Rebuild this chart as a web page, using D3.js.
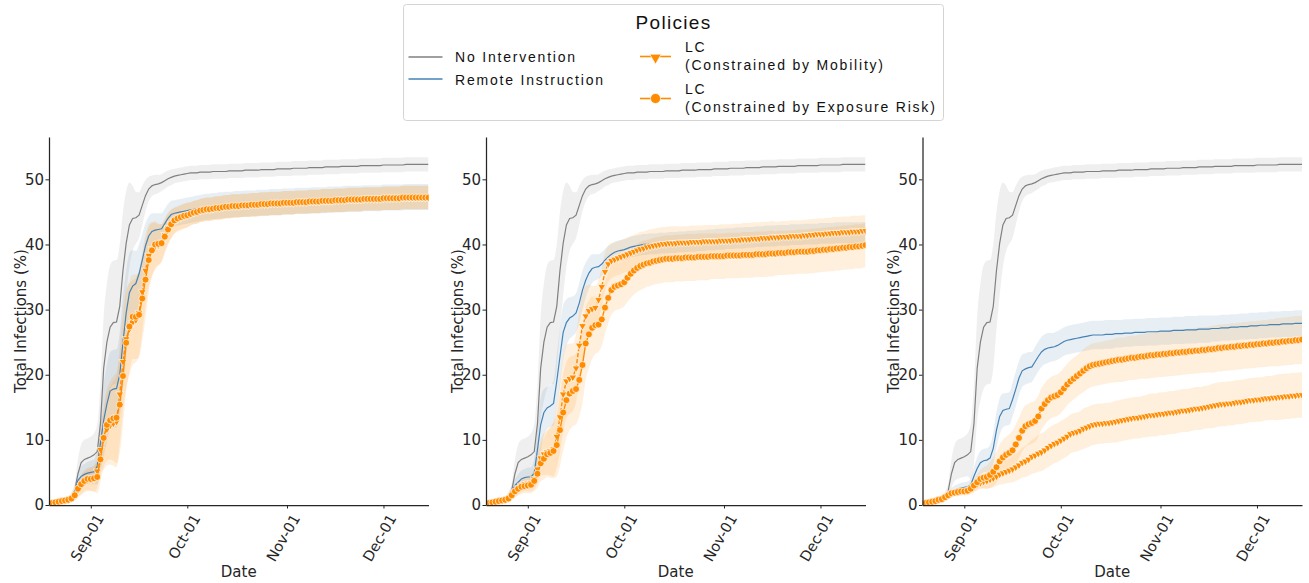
<!DOCTYPE html>
<html>
<head>
<meta charset="utf-8">
<script src="https://cdn.jsdelivr.net/npm/d3@7"></script>
<style>
  body { margin: 0; background: #fff; }
  svg { display: block; }
</style>
</head>
<body>
<svg id="chart" width="1309" height="583"></svg>
<script>
// ---- Data: daily cumulative infections (%) from Aug 19 to Dec 15 ----
const startDate = new Date(2020, 7, 19);
const dayCount = 119;
const xTickDates = [new Date(2020, 8, 1), new Date(2020, 9, 1), new Date(2020, 10, 1), new Date(2020, 11, 1)];
const yTickValues = [0, 10, 20, 30, 40, 50];

const policyNames = ["No Intervention", "Remote Instruction", "LC|(Constrained by Mobility)", "LC|(Constrained by Exposure Risk)"];

// No Intervention (same in every panel)
const noIntervention = [
  0.1,0.2,0.3,0.4,0.5,0.7,0.9,1.3,
  2.2,4.8,6.5,7.0,7.2,7.4,7.7,8.2,
  12.5,21.0,25.0,27.3,28.0,28.1,30.5,36.0,
  40.2,43.0,44.0,44.1,44.5,46.0,47.5,48.5,
  49.0,49.2,49.3,49.5,49.8,50.1,50.3,50.5,
  50.6,50.7,50.8,50.9,51.0,51.0,51.0,51.1,
  51.1,51.1,51.1,51.2,51.2,51.2,51.2,51.2,
  51.3,51.3,51.3,51.3,51.3,51.4,51.4,51.4,
  51.4,51.4,51.5,51.5,51.5,51.5,51.5,51.6,
  51.6,51.6,51.6,51.6,51.7,51.7,51.7,51.7,
  51.7,51.8,51.8,51.8,51.8,51.8,51.9,51.9,
  51.9,51.9,51.9,52.0,52.0,52.0,52.0,52.0,
  52.0,52.1,52.1,52.1,52.1,52.1,52.1,52.1,
  52.2,52.2,52.2,52.2,52.2,52.2,52.2,52.3,
  52.3,52.3,52.3,52.3,52.3,52.3,52.3
];
const spreadNone = [
  0.1,0.1,0.2,0.2,0.3,0.4,0.5,0.7,
  1.2,2.2,2.8,3.0,3.0,3.1,3.3,4.2,
  6.0,8.0,9.0,9.5,9.5,9.5,9.5,9.0,
  8.0,6.5,5.0,4.0,3.5,3.0,2.4,1.9,
  1.6,1.5,1.4,1.3,1.3,1.2,1.2,1.1,
  1.1,1.1,1.1,1.1,1.1,1.1,1.1,1.1,1.1,1.1,
  1.1,1.1,1.1,1.1,1.1,1.1,1.1,1.1,1.1,1.1,
  1.1,1.1,1.1,1.1,1.1,1.1,1.1,1.1,1.1,1.1,
  1.1,1.1,1.1,1.1,1.1,1.1,1.1,1.1,1.1,1.1,
  1.1,1.1,1.1,1.1,1.1,1.1,1.1,1.1,1.1,1.1,
  1.1,1.1,1.1,1.1,1.1,1.1,1.1,1.1,1.1,1.1,
  1.1,1.1,1.1,1.1,1.1,1.1,1.1,1.1,1.1,1.1,
  1.1,1.1,1.1,1.1,1.1,1.1,1.1,1.1,1.1
];

// Panel 1
const remote1 = [
  0.1,0.2,0.3,0.4,0.5,0.7,0.9,1.2,
  2.0,3.8,4.4,4.7,4.9,5.0,5.1,6.0,
  9.5,13.0,15.5,17.5,17.8,17.9,20.0,25.0,
  29.5,32.6,33.6,34.0,35.5,37.6,39.8,41.3,
  42.0,42.2,42.3,42.4,43.2,44.0,44.6,44.8,
  44.9,45.0,45.1,45.2,45.3,45.4,45.5,45.6,
  45.7,45.8,45.8,45.9,45.9,46.0,46.0,46.1,
  46.1,46.1,46.2,46.2,46.2,46.3,46.3,46.3,
  46.3,46.4,46.4,46.4,46.4,46.5,46.5,46.5,
  46.5,46.6,46.6,46.6,46.6,46.7,46.7,46.7,
  46.7,46.7,46.8,46.8,46.8,46.8,46.8,46.9,
  46.9,46.9,46.9,46.9,47.0,47.0,47.0,47.0,
  47.0,47.0,47.1,47.1,47.1,47.1,47.1,47.1,
  47.2,47.2,47.2,47.2,47.2,47.2,47.2,47.3,
  47.3,47.3,47.3,47.3,47.3,47.3,47.3
];
const spreadRemote1 = [
  0.1,0.1,0.2,0.2,0.3,0.3,0.4,0.5,
  0.8,1.2,1.5,1.6,1.7,1.8,1.9,2.8,
  4.5,5.5,6.0,6.0,6.0,6.0,6.5,7.0,
  6.5,6.0,5.5,5.0,4.5,4.0,3.5,3.0,
  2.8,2.6,2.5,2.4,2.3,2.2,2.1,2.0,
  2.0,2.0,2.0,2.0,2.0,2.0,2.0,2.0,2.0,2.0,
  2.0,2.0,2.0,2.0,2.0,2.0,2.0,2.0,2.0,2.0,
  2.0,2.0,2.0,2.0,2.0,2.0,2.0,2.0,2.0,2.0,
  2.0,2.0,2.0,2.0,2.0,2.0,2.0,2.0,2.0,2.0,
  2.0,2.0,2.0,2.0,2.0,2.0,2.0,2.0,2.0,2.0,
  2.0,2.0,2.0,2.0,2.0,2.0,2.0,2.0,2.0,2.0,
  2.0,2.0,2.0,2.0,2.0,2.0,2.0,2.0,2.0,2.0,
  2.0,2.0,2.0,2.0,2.0,2.0,2.0,2.0,2.0
];
const mobility1 = [
  0.2,0.3,0.4,0.5,0.6,0.7,0.8,1.0,
  1.4,2.3,3.0,3.5,3.8,3.9,4.0,5.2,
  8.5,10.0,11.6,12.2,12.5,12.8,17.0,22.0,
  25.5,27.0,28.0,28.4,29.5,32.7,36.0,38.3,
  39.3,39.7,39.9,40.3,41.5,42.5,43.2,43.6,
  43.9,44.1,44.3,44.5,44.7,44.9,45.0,45.2,
  45.3,45.4,45.4,45.5,45.6,45.6,45.7,45.8,
  45.8,45.9,45.9,45.9,46.0,46.0,46.0,46.1,
  46.1,46.1,46.2,46.2,46.2,46.3,46.3,46.3,
  46.3,46.4,46.4,46.4,46.4,46.5,46.5,46.5,
  46.5,46.6,46.6,46.6,46.6,46.7,46.7,46.7,
  46.7,46.8,46.8,46.8,46.8,46.9,46.9,46.9,
  46.9,46.9,47.0,47.0,47.0,47.0,47.0,47.0,
  47.1,47.1,47.1,47.1,47.1,47.1,47.2,47.2,
  47.2,47.2,47.2,47.2,47.2,47.2,47.2
];
const spreadMobility1 = [
  0.1,0.1,0.2,0.2,0.2,0.3,0.3,0.4,
  0.8,1.2,1.5,1.6,1.7,1.8,2.0,2.6,
  3.6,4.6,5.5,6.0,6.5,7.0,7.5,7.5,
  7.5,7.0,6.5,6.5,6.5,6.2,5.6,4.8,
  4.1,3.6,3.2,2.9,2.6,2.4,2.2,2.0,
  1.9,1.9,1.9,1.9,1.8,1.8,1.8,1.8,1.8,1.8,
  1.8,1.8,1.8,1.8,1.8,1.8,1.8,1.8,1.8,1.8,
  1.8,1.8,1.8,1.8,1.8,1.8,1.8,1.8,1.8,1.8,
  1.8,1.8,1.8,1.8,1.8,1.8,1.8,1.8,1.8,1.8,
  1.8,1.8,1.8,1.8,1.8,1.8,1.8,1.8,1.8,1.8,
  1.8,1.8,1.8,1.8,1.8,1.8,1.8,1.8,1.8,1.8,
  1.8,1.8,1.8,1.8,1.8,1.8,1.8,1.8,1.8,1.8,
  1.8,1.8,1.8,1.8,1.8,1.8,1.8,1.8,1.8
];
const exposure1 = [
  0.2,0.3,0.4,0.5,0.6,0.7,0.8,1.0,
  1.5,2.5,3.2,3.7,4.0,4.0,4.1,4.3,
  7.0,10.3,12.3,13.0,13.3,13.4,15.4,19.8,
  24.9,27.4,28.9,28.9,29.2,31.7,34.6,37.6,
  39.1,40.0,40.1,40.2,41.2,42.3,43.1,43.7,
  44.0,44.2,44.4,44.5,44.7,44.9,45.0,45.2,
  45.3,45.4,45.4,45.5,45.6,45.6,45.7,45.8,
  45.8,45.9,45.9,45.9,46.0,46.0,46.0,46.1,
  46.1,46.1,46.2,46.2,46.2,46.3,46.3,46.3,
  46.3,46.4,46.4,46.4,46.4,46.5,46.5,46.5,
  46.5,46.6,46.6,46.6,46.6,46.7,46.7,46.7,
  46.7,46.8,46.8,46.8,46.8,46.9,46.9,46.9,
  46.9,46.9,47.0,47.0,47.0,47.0,47.0,47.0,
  47.1,47.1,47.1,47.1,47.1,47.1,47.2,47.2,
  47.2,47.2,47.2,47.2,47.2,47.2,47.2
];
const spreadExposure1 = [
  0.1,0.1,0.2,0.2,0.2,0.3,0.3,0.4,
  0.8,1.2,1.5,1.6,1.7,1.8,2.0,2.5,
  3.5,4.5,5.5,6.0,6.5,7.0,7.5,7.5,
  7.5,7.0,6.5,6.5,6.5,6.5,6.0,5.0,
  4.2,3.6,3.2,2.9,2.6,2.4,2.2,2.0,
  1.9,1.9,1.9,1.9,1.8,1.8,1.8,1.8,1.8,1.8,
  1.8,1.8,1.8,1.8,1.8,1.8,1.8,1.8,1.8,1.8,
  1.8,1.8,1.8,1.8,1.8,1.8,1.8,1.8,1.8,1.8,
  1.8,1.8,1.8,1.8,1.8,1.8,1.8,1.8,1.8,1.8,
  1.8,1.8,1.8,1.8,1.8,1.8,1.8,1.8,1.8,1.8,
  1.8,1.8,1.8,1.8,1.8,1.8,1.8,1.8,1.8,1.8,
  1.8,1.8,1.8,1.8,1.8,1.8,1.8,1.8,1.8,1.8,
  1.8,1.8,1.8,1.8,1.8,1.8,1.8,1.8,1.8
];

// Panel 2
const remote2 = [
  0.1,0.2,0.3,0.4,0.5,0.7,0.9,1.2,
  2.0,3.0,3.5,4.0,4.2,4.3,4.3,4.9,
  8.5,12.3,14.2,14.9,15.2,15.6,19.0,22.8,
  26.5,28.0,28.7,29.0,29.5,31.0,33.0,34.5,
  35.6,36.3,36.5,36.6,37.0,37.6,38.1,38.5,
  38.8,39.0,39.1,39.2,39.4,39.6,39.7,39.8,
  39.9,40.0,40.0,40.1,
  40.1,40.1,40.2,40.2,40.2,40.3,40.3,40.3,
  40.4,40.4,40.4,40.5,40.5,40.5,40.6,40.6,
  40.6,40.7,40.7,40.7,40.8,40.8,40.8,40.9,
  40.9,40.9,41.0,41.0,41.0,41.1,41.1,41.1,
  41.2,41.2,41.2,41.3,41.3,41.3,41.3,41.4,
  41.4,41.4,41.4,41.5,41.5,41.5,41.5,41.6,
  41.6,41.6,41.6,41.6,41.7,41.7,41.7,41.7,
  41.7,41.8,41.8,41.8,41.8,41.8,41.8,41.8,
  41.8,41.8,41.8
];
const spreadRemote2 = [
  0.1,0.1,0.2,0.2,0.3,0.3,0.4,0.5,
  0.8,1.0,1.2,1.3,1.3,1.4,1.5,2.2,
  3.5,4.0,3.6,3.2,3.2,3.4,4.0,4.4,
  4.2,3.6,3.2,3.0,3.0,3.1,3.0,2.7,
  2.4,2.2,2.0,1.9,1.8,1.7,1.7,1.6,
  1.6,1.6,1.6,1.6,1.6,1.6,1.6,1.6,1.6,1.6,
  1.6,1.6,1.6,1.6,1.6,1.6,1.6,1.6,1.6,1.6,
  1.6,1.6,1.6,1.6,1.6,1.6,1.6,1.6,1.6,1.6,
  1.6,1.6,1.6,1.6,1.6,1.6,1.6,1.6,1.6,1.6,
  1.6,1.6,1.6,1.6,1.6,1.6,1.6,1.6,1.6,1.6,
  1.6,1.6,1.6,1.6,1.6,1.6,1.6,1.6,1.6,1.6,
  1.6,1.6,1.6,1.6,1.6,1.6,1.6,1.6,1.6,1.6,
  1.6,1.6,1.6,1.6,1.6,1.6,1.6,1.6,1.6
];
const mobility2 = [
  0.2,0.3,0.4,0.5,0.6,0.7,0.8,1.0,
  1.5,2.0,2.6,3.0,3.2,3.3,3.4,4.0,
  5.5,7.2,7.8,8.1,8.3,8.6,10.5,13.5,
  17.0,19.0,19.4,19.6,21.0,24.5,27.5,29.0,
  29.8,30.1,30.3,31.5,33.5,35.8,37.0,37.5,
  37.7,37.9,38.1,38.3,38.5,38.7,38.9,39.1,
  39.3,39.4,39.6,39.7,39.8,39.9,40.0,40.1,
  40.1,40.2,40.2,40.2,40.3,40.3,40.3,40.3,
  40.4,40.4,40.4,40.4,40.5,40.5,40.5,40.5,
  40.5,40.6,40.6,40.6,40.6,40.7,40.7,40.7,
  40.8,40.8,40.8,40.9,40.9,40.9,41.0,41.0,
  41.0,41.1,41.1,41.1,41.2,41.2,41.2,41.3,
  41.3,41.3,41.3,41.4,41.4,41.5,41.5,41.6,
  41.6,41.6,41.7,41.7,41.8,41.8,41.8,41.9,
  41.9,41.9,42.0,42.0,42.0,42.1,42.1
];
const spreadMobility2 = [
  0.1,0.1,0.2,0.2,0.2,0.3,0.3,0.4,
  0.7,0.9,1.0,1.1,1.1,1.2,1.3,1.6,
  2.2,2.8,3.2,3.5,3.8,4.2,4.8,5.5,
  5.8,5.6,5.4,5.2,5.2,5.4,5.2,4.6,
  4.0,3.6,3.3,3.1,3.0,2.9,2.8,2.7,
  2.6,2.6,2.6,2.6,2.6,2.6,2.6,2.6,2.6,2.6,
  2.6,2.6,2.6,2.6,2.6,2.6,2.6,2.6,2.6,2.6,
  2.5,2.5,2.5,2.5,2.5,2.5,2.5,2.5,2.5,2.5,
  2.5,2.5,2.5,2.5,2.5,2.5,2.5,2.5,2.5,2.5,
  2.5,2.5,2.5,2.5,2.5,2.5,2.5,2.5,2.5,2.5,
  2.4,2.4,2.4,2.4,2.4,2.4,2.4,2.4,2.4,2.4,
  2.4,2.4,2.4,2.4,2.4,2.4,2.4,2.4,2.4,2.4,
  2.4,2.4,2.4,2.4,2.4,2.4,2.4,2.4,2.4
];
const exposure2 = [
  0.2,0.3,0.4,0.5,0.6,0.7,0.8,1.0,
  1.5,2.1,2.5,2.8,2.9,3.0,3.1,3.7,
  4.8,6.4,7.1,7.8,8.0,8.3,9.2,11.5,
  14.2,16.1,17.1,17.5,17.8,19.2,21.5,24.8,
  26.2,27.2,27.6,27.7,28.5,30.3,31.8,33.0,
  33.5,33.7,33.9,34.2,34.9,35.5,36.0,36.4,
  36.7,36.9,37.1,37.2,37.4,37.5,37.6,37.7,
  37.8,37.8,37.8,37.9,37.9,37.9,38.0,38.0,
  38.0,38.0,38.1,38.1,38.1,38.1,38.2,38.2,
  38.2,38.2,38.2,38.3,38.3,38.3,38.3,38.3,
  38.4,38.4,38.4,38.4,38.5,38.5,38.5,38.5,
  38.6,38.6,38.6,38.7,38.7,38.7,38.8,38.8,
  38.8,38.9,38.9,38.9,38.9,39.0,39.0,39.1,
  39.1,39.2,39.2,39.3,39.3,39.4,39.4,39.5,
  39.5,39.6,39.6,39.7,39.7,39.8,39.9
];
const spreadExposure2 = [
  0.1,0.1,0.2,0.2,0.2,0.3,0.3,0.4,
  0.7,0.9,1.0,1.1,1.1,1.2,1.3,1.6,
  2.2,2.8,3.2,3.5,3.8,4.2,4.8,5.5,
  5.8,5.8,5.6,5.4,5.4,5.6,5.8,5.6,
  5.2,4.8,4.4,4.2,4.1,4.0,3.9,3.8,
  3.7,3.7,3.7,3.7,3.7,3.7,3.7,3.7,3.7,3.7,
  3.6,3.6,3.6,3.6,3.6,3.6,3.6,3.6,3.6,3.6,
  3.6,3.6,3.6,3.6,3.6,3.6,3.6,3.6,3.6,3.6,
  3.5,3.5,3.5,3.5,3.5,3.5,3.5,3.5,3.5,3.5,
  3.5,3.5,3.5,3.5,3.5,3.5,3.5,3.5,3.5,3.5,
  3.4,3.4,3.4,3.4,3.4,3.4,3.4,3.4,3.4,3.4,
  3.4,3.4,3.4,3.4,3.4,3.4,3.4,3.4,3.4,3.4,
  3.4,3.4,3.4,3.4,3.4,3.4,3.4,3.4,3.4
];

// Panel 3
const remote3 = [
  0.1,0.2,0.3,0.4,0.5,0.7,0.9,1.2,
  1.6,2.0,2.3,2.5,2.6,2.7,2.8,3.1,
  4.4,5.6,6.5,6.8,6.9,7.2,8.7,11.5,
  13.6,14.5,14.7,14.8,16.2,17.8,19.5,20.6,
  20.9,21.1,21.2,22.0,22.8,23.5,23.9,24.1,
  24.2,24.3,24.5,24.8,25.1,25.3,25.4,25.5,
  25.6,25.7,25.8,25.9,26.0,26.1,26.1,26.1,
  26.1,26.2,26.2,26.2,26.3,26.3,26.3,26.4,
  26.4,26.4,26.5,26.5,26.5,26.5,26.6,26.6,
  26.6,26.6,26.7,26.7,26.7,26.7,26.8,26.8,
  26.8,26.8,26.9,26.9,26.9,26.9,27.0,27.0,
  27.0,27.0,27.1,27.1,27.1,27.2,27.2,27.2,
  27.3,27.3,27.3,27.4,27.4,27.4,27.5,27.5,
  27.5,27.6,27.6,27.6,27.7,27.7,27.7,27.7,
  27.8,27.8,27.8,27.8,27.9,27.9,27.9
];
const spreadRemote3 = [
  0.1,0.1,0.1,0.2,0.2,0.3,0.3,0.4,
  0.5,0.6,0.7,0.7,0.8,0.8,0.8,1.0,
  1.4,1.7,1.8,1.8,1.8,2.0,2.4,2.8,
  2.8,2.6,2.5,2.5,2.6,2.7,2.6,2.5,
  2.4,2.4,2.3,2.3,2.3,2.3,2.3,2.3,
  2.2,2.2,2.2,2.2,2.2,2.2,2.2,2.2,2.2,2.2,
  2.2,2.2,2.2,2.2,2.2,2.2,2.2,2.2,2.2,2.2,
  2.1,2.1,2.1,2.1,2.1,2.1,2.1,2.1,2.1,2.1,
  2.1,2.1,2.1,2.1,2.1,2.1,2.1,2.1,2.1,2.1,
  2.1,2.1,2.1,2.1,2.1,2.1,2.1,2.1,2.1,2.1,
  2.0,2.0,2.0,2.0,2.0,2.0,2.0,2.0,2.0,2.0,
  2.0,2.0,2.0,2.0,2.0,2.0,2.0,2.0,2.0,2.0,
  2.0,2.0,2.0,2.0,2.0,2.0,2.0,2.0,2.0
];
const mobility3 = [
  0.2,0.3,0.4,0.5,0.6,0.8,0.9,1.2,
  1.5,1.8,1.9,2.0,2.1,2.1,2.2,2.4,
  2.8,3.2,3.4,3.6,3.7,3.9,4.1,4.4,
  4.7,4.9,5.1,5.3,5.5,5.8,6.1,6.5,
  6.7,7.0,7.4,7.6,7.9,8.1,8.4,8.8,
  9.1,9.4,9.6,9.9,10.2,10.5,10.9,11.1,
  11.2,11.4,11.7,11.9,12.1,12.3,12.4,12.5,
  12.5,12.6,12.6,12.7,12.8,12.9,13.0,13.1,
  13.2,13.3,13.4,13.4,13.5,13.6,13.7,13.8,
  13.8,13.9,14.0,14.0,14.1,14.2,14.2,14.3,
  14.4,14.5,14.5,14.6,14.7,14.8,14.8,14.9,
  15.0,15.1,15.2,15.3,15.4,15.5,15.5,15.6,
  15.6,15.7,15.8,15.8,15.9,16.0,16.1,16.1,
  16.2,16.2,16.3,16.4,16.4,16.5,16.5,16.6,
  16.6,16.7,16.7,16.8,16.8,16.9,16.9
];
const spreadMobility3 = [
  0.1,0.1,0.1,0.2,0.2,0.2,0.3,0.3,
  0.4,0.5,0.5,0.5,0.6,0.6,0.6,0.7,
  0.8,0.9,1.0,1.1,1.2,1.3,1.4,1.5,
  1.6,1.7,1.8,1.9,2.0,2.1,2.2,2.3,
  2.4,2.5,2.6,2.7,2.8,2.9,2.9,3.0,
  3.0,3.0,3.0,3.0,3.0,3.0,3.0,3.0,3.0,3.0,
  3.1,3.1,3.1,3.1,3.1,3.1,3.1,3.1,3.1,3.1,
  3.2,3.2,3.2,3.2,3.2,3.2,3.2,3.2,3.2,3.2,
  3.3,3.3,3.3,3.3,3.3,3.3,3.3,3.3,3.3,3.3,
  3.3,3.3,3.3,3.3,3.3,3.3,3.3,3.3,3.3,3.3,
  3.4,3.4,3.4,3.4,3.4,3.4,3.4,3.4,3.4,3.4,
  3.4,3.4,3.4,3.4,3.4,3.4,3.4,3.4,3.4,3.4,
  3.5,3.5,3.5,3.5,3.5,3.5,3.5,3.5,3.5
];
const exposure3 = [
  0.2,0.3,0.4,0.5,0.6,0.8,0.9,1.2,
  1.5,1.8,1.9,2.0,2.1,2.1,2.2,2.5,
  3.0,3.5,4.0,4.2,4.3,4.6,5.1,5.8,
  6.7,7.3,7.7,8.0,8.4,9.3,10.3,11.4,
  12.1,12.4,12.6,12.9,13.6,14.8,15.5,16.1,
  16.5,16.7,16.9,17.3,17.9,18.5,19.0,19.4,
  19.8,20.2,20.6,21.0,21.3,21.5,21.6,21.7,
  21.8,21.9,22.0,22.1,22.2,22.3,22.3,22.4,
  22.5,22.6,22.6,22.7,22.8,22.8,22.9,23.0,
  23.0,23.1,23.1,23.2,23.2,23.3,23.3,23.4,
  23.4,23.5,23.5,23.6,23.6,23.7,23.7,23.8,
  23.8,23.9,23.9,24.0,24.1,24.1,24.2,24.2,
  24.3,24.3,24.4,24.4,24.5,24.5,24.6,24.6,
  24.7,24.7,24.8,24.8,24.9,24.9,25.0,25.0,
  25.1,25.1,25.2,25.2,25.3,25.3,25.4
];
const spreadExposure3 = [
  0.1,0.1,0.1,0.2,0.2,0.2,0.3,0.3,
  0.4,0.5,0.5,0.6,0.6,0.6,0.7,0.8,
  1.0,1.2,1.4,1.6,1.8,2.0,2.2,2.4,
  2.6,2.7,2.8,2.9,3.0,3.1,3.1,3.2,
  3.2,3.2,3.2,3.2,3.2,3.2,3.2,3.2,
  3.2,3.2,3.2,3.2,3.2,3.2,3.2,3.2,3.2,3.2,
  3.3,3.3,3.3,3.3,3.3,3.3,3.3,3.3,3.3,3.3,
  3.4,3.4,3.4,3.4,3.4,3.4,3.4,3.4,3.4,3.4,
  3.5,3.5,3.5,3.5,3.5,3.5,3.5,3.5,3.5,3.5,
  3.5,3.5,3.5,3.5,3.5,3.5,3.5,3.5,3.5,3.5,
  3.6,3.6,3.6,3.6,3.6,3.6,3.6,3.6,3.6,3.6,
  3.6,3.6,3.6,3.6,3.6,3.6,3.6,3.6,3.6,3.6,
  3.7,3.7,3.7,3.7,3.7,3.7,3.7,3.7,3.7
];

// ---- Styling ----
const policyColors = ["#808080", "#4682b4", "#ff8c00", "#ff8c00"];
const policyMarkers = [null, null, "triangle", "circle"];

const panels = [
  { series: [noIntervention, remote1, mobility1, exposure1], spreads: [spreadNone, spreadRemote1, spreadMobility1, spreadExposure1] },
  { series: [noIntervention, remote2, mobility2, exposure2], spreads: [spreadNone, spreadRemote2, spreadMobility2, spreadExposure2] },
  { series: [noIntervention, remote3, mobility3, exposure3], spreads: [spreadNone, spreadRemote3, spreadMobility3, spreadExposure3] }
];

panels.forEach((p, i) => {
  p.series.concat(p.spreads).forEach((arr, k) => {
    if (arr.length !== dayCount) throw new Error("panel " + i + " array " + k + " has " + arr.length + " values");
  });
});

const dates = d3.range(dayCount).map(i => d3.timeDay.offset(startDate, i));

const svg = d3.select("#chart");
const panelLefts = [49, 486, 922.5];
const plotWidth = 379.5;
const plotTop = 137, plotBottom = 505;
const axisColor = "#262626";
const tickFont = "DejaVu Sans, Verdana, sans-serif";

const y = d3.scaleLinear().domain([0, 56.5]).range([plotBottom, plotTop]);

const triangleDown = d3.symbol().type(d3.symbolTriangle).size(26)();
const circleSym = d3.symbol().type(d3.symbolCircle).size(38)();

panels.forEach((panel, pi) => {
  const left = panelLefts[pi];
  const x = d3.scaleTime().domain([dates[0], dates[dayCount - 1]]).range([left, left + plotWidth]);
  const g = svg.append("g").attr("class", "panel");

  const clipId = "clip" + pi;
  svg.append("clipPath").attr("id", clipId)
    .append("rect").attr("x", left).attr("y", plotTop)
    .attr("width", plotWidth).attr("height", plotBottom - plotTop);

  const plot = g.append("g").attr("clip-path", `url(#${clipId})`);

  // confidence bands
  panel.series.forEach((vals, si) => {
    const sp = panel.spreads[si];
    const area = d3.area()
      .x((d, k) => x(dates[k]))
      .y0((d, k) => y(Math.max(0, d - sp[k])))
      .y1((d, k) => y(d + sp[k]))
      .curve(d3.curveMonotoneX);
    plot.append("path").datum(vals)
      .attr("d", area)
      .attr("fill", policyColors[si])
      .attr("fill-opacity", 0.13)
      .attr("stroke", "none");
  });

  // lines and markers, drawn in policy order
  panel.series.forEach((vals, si) => {
    const line = d3.line().x((d, k) => x(dates[k])).y(d => y(d));
    plot.append("path").datum(vals)
      .attr("d", line)
      .attr("fill", "none")
      .attr("stroke", policyColors[si])
      .attr("stroke-width", si >= 2 ? 1.4 : 1.2)
      .attr("stroke-dasharray", si === 2 ? "4,2" : null);

    if (policyMarkers[si]) {
      const sym = policyMarkers[si] === "triangle" ? triangleDown : circleSym;
      const rot = policyMarkers[si] === "triangle" ? " rotate(180)" : "";
      plot.append("g").selectAll("path").data(vals).join("path")
        .attr("d", sym)
        .attr("transform", (d, k) => `translate(${x(dates[k])},${y(d)})${rot}`)
        .attr("fill", policyColors[si])
        .attr("stroke", "#fff")
        .attr("stroke-width", 0.7);
    }
  });

  // y axis
  const yAxis = g.append("g").attr("transform", `translate(${left},0)`)
    .call(d3.axisLeft(y).tickValues(yTickValues).tickSize(3.5).tickSizeOuter(0).tickPadding(1.5));
  yAxis.select(".domain").attr("stroke", axisColor).attr("stroke-width", 1.25);
  yAxis.selectAll(".tick line").attr("stroke", axisColor).attr("stroke-width", 1);
  yAxis.selectAll(".tick text").attr("font-family", tickFont).attr("font-size", 15).attr("fill", axisColor);
  yAxis.attr("font-family", null).attr("font-size", null);

  // x axis
  const xAxis = g.append("g").attr("transform", `translate(0,${plotBottom})`)
    .call(d3.axisBottom(x).tickValues(xTickDates).tickFormat(d3.timeFormat("%b-%d")).tickSize(3.5).tickSizeOuter(0));
  xAxis.select(".domain").attr("stroke", axisColor).attr("stroke-width", 1.25);
  xAxis.selectAll(".tick line").attr("stroke", axisColor).attr("stroke-width", 1);
  xAxis.selectAll(".tick text")
    .attr("font-family", tickFont).attr("font-size", 14.5).attr("fill", axisColor)
    .attr("x", 0).attr("y", 0).attr("dy", null)
    .attr("text-anchor", "end")
    .attr("transform", "translate(13,13) rotate(-60)");
  xAxis.attr("font-family", null).attr("font-size", null);

  // axis titles
  g.append("text")
    .attr("x", left + plotWidth / 2).attr("y", 577)
    .attr("text-anchor", "middle")
    .attr("font-family", tickFont).attr("font-size", 15).attr("fill", axisColor)
    .text("Date");
  g.append("text")
    .attr("transform", `translate(${left - 23.5},${(plotTop + plotBottom) / 2}) rotate(-90)`)
    .attr("text-anchor", "middle")
    .attr("font-family", tickFont).attr("font-size", 15).attr("fill", axisColor)
    .text("Total Infections (%)");
});

// ---- Legend ----
const legendFont = "Liberation Sans, Arial, sans-serif";
const legend = svg.append("g").attr("class", "legend");
legend.append("rect")
  .attr("x", 403.5).attr("y", 4.5).attr("width", 540).attr("height", 116)
  .attr("rx", 3).attr("fill", "#fff").attr("stroke", "#d4d4d4").attr("stroke-width", 1);
legend.append("text")
  .attr("x", 673.5).attr("y", 29)
  .attr("text-anchor", "middle")
  .attr("font-family", legendFont).attr("font-size", 19).attr("letter-spacing", 1.3)
  .attr("fill", "#111").text("Policies");

const legendItems = [
  { lx: 408.5, ly: 57, tx: 455, ty: [62] },
  { lx: 408.5, ly: 79, tx: 455, ty: [85] },
  { lx: 640, ly: 56.5, tx: 685, ty: [52, 70] },
  { lx: 640, ly: 98.5, tx: 685, ty: [94, 112] }
];
legendItems.forEach((it, i) => {
  const lw = i < 2 ? 34 : 31;
  legend.append("line")
    .attr("x1", it.lx).attr("x2", it.lx + lw).attr("y1", it.ly).attr("y2", it.ly)
    .attr("stroke", policyColors[i]).attr("stroke-width", i < 2 ? 1.3 : 1.6);
  if (policyMarkers[i] === "triangle") {
    legend.append("path")
      .attr("d", d3.symbol().type(d3.symbolTriangle).size(58)())
      .attr("transform", `translate(${it.lx + lw / 2},${it.ly + 1}) rotate(180)`)
      .attr("fill", policyColors[i]).attr("stroke", "#fff").attr("stroke-width", 0.7);
  } else if (policyMarkers[i] === "circle") {
    legend.append("path")
      .attr("d", d3.symbol().type(d3.symbolCircle).size(80)())
      .attr("transform", `translate(${it.lx + lw / 2},${it.ly})`)
      .attr("fill", policyColors[i]).attr("stroke", "#fff").attr("stroke-width", 0.7);
  }
  const lines = policyNames[i].split("|");
  lines.forEach((t, li) => {
    legend.append("text")
      .attr("x", it.tx).attr("y", it.ty[li])
      .attr("font-family", legendFont).attr("font-size", 14).attr("letter-spacing", 1.8)
      .attr("fill", "#111").text(t);
  });
});
</script>
</body>
</html>
